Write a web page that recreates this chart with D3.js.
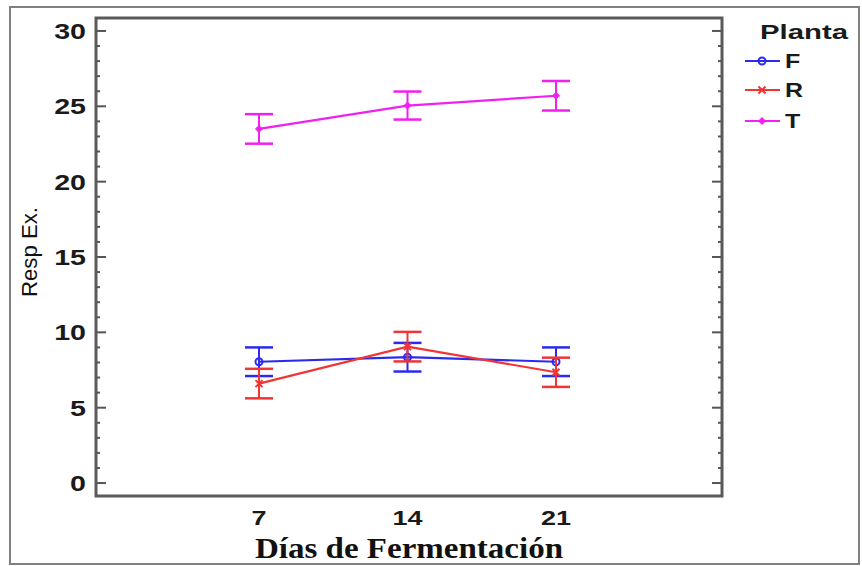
<!DOCTYPE html>
<html><head><meta charset="utf-8">
<script src="https://cdn.jsdelivr.net/npm/d3@7"></script>
<style>body{margin:0;background:#fff}svg{display:block}</style>
</head><body>
<script>
const days = [7, 14, 21];
const seriesNames = ["F", "R", "T"];
const valuesF = [8.05, 8.35, 8.05];
const valuesR = [6.6, 9.05, 7.35];
const valuesT = [23.5, 25.05, 25.7];
const errF = [0.95, 0.95, 0.95];
const errR = [0.98, 0.98, 0.97];
const errT = [0.98, 0.93, 0.98];
const yTicks = [0, 5, 10, 15, 20, 25, 30];
const colors = {F: "#2b2bf0", R: "#f03535", T: "#f020f0"};

const series = [
  {name: "F", values: valuesF, err: errF},
  {name: "R", values: valuesR, err: errR},
  {name: "T", values: valuesT, err: errT}
];

const W = 862, H = 566;
const SANS = "Liberation Sans, Arial, sans-serif";
const svg = d3.select("body").append("svg").attr("width", W).attr("height", H);

// outer border
svg.append("rect").attr("x", 10).attr("y", 7).attr("width", 849).attr("height", 557)
  .attr("fill", "none").attr("stroke", "#808080").attr("stroke-width", 2);

const L = 96, R = 722, T = 18, B = 496;
const x = d3.scaleLinear().domain([7, 21]).range([259, 556]);
const y = d3.scaleLinear().domain([-0.86, 30.86]).range([B, T]);

// ticks (left and right, inward)
const minor = d3.range(0, 31, 1);
const g = svg.append("g");
minor.forEach(v => {
  const major = v % 5 === 0;
  const len = major ? 10 : 4;
  g.append("line").attr("x1", L).attr("x2", L + len).attr("y1", y(v)).attr("y2", y(v))
    .attr("stroke", "#555").attr("stroke-width", 2);
  g.append("line").attr("x1", R).attr("x2", R - len).attr("y1", y(v)).attr("y2", y(v))
    .attr("stroke", "#555").attr("stroke-width", 2);
});

// plot frame
svg.append("rect").attr("x", L).attr("y", T).attr("width", R - L).attr("height", B - T)
  .attr("fill", "none").attr("stroke", "#5a5a5a").attr("stroke-width", 3);

// stretched text helper
function stxt(px, py, str, opts) {
  const gg = svg.append("g").attr("transform", `translate(${px},${py}) scale(${opts.sx || 1},1)`);
  return gg.append("text").attr("x", 0).attr("y", 0)
    .attr("text-anchor", opts.anchor || "start").attr("font-family", opts.family || SANS)
    .attr("font-weight", opts.weight || "bold").attr("font-size", opts.size)
    .attr("fill", opts.fill || "#1a1a1a").attr("dy", opts.dy || null).text(str);
}

// y tick labels
yTicks.forEach(d => stxt(86, y(d), d, {anchor: "end", size: 22, sx: 1.3, dy: "0.36em"}));

// x tick labels
days.forEach(d => stxt(x(d), 525, d, {anchor: "middle", size: 20, sx: 1.35}));

// x axis title
svg.append("text").attr("x", 409).attr("y", 558).attr("text-anchor", "middle")
  .attr("font-family", "Liberation Serif, Times New Roman, serif").attr("font-weight", "bold")
  .attr("font-size", 30).attr("fill", "#111").attr("textLength", 308)
  .attr("lengthAdjust", "spacingAndGlyphs").text("Días de Fermentación");

// y axis title
svg.append("text").attr("transform", "translate(37,252) rotate(-90)").attr("text-anchor", "middle")
  .attr("font-family", SANS).attr("font-size", 22)
  .attr("fill", "#111").attr("textLength", 90).attr("lengthAdjust", "spacingAndGlyphs").text("Resp Ex.");

// marker drawing
function marker(sel, name, cx, cy, col) {
  if (name === "F") {
    sel.append("circle").attr("cx", cx).attr("cy", cy).attr("r", 3.5)
      .attr("fill", "none").attr("stroke", col).attr("stroke-width", 2);
  } else if (name === "R") {
    sel.append("path").attr("d", `M${cx-3.5},${cy-3.5}L${cx+3.5},${cy+3.5}M${cx-3.5},${cy+3.5}L${cx+3.5},${cy-3.5}`)
      .attr("stroke", col).attr("stroke-width", 2);
  } else {
    sel.append("path").attr("d", `M${cx},${cy-3.5}L${cx+3.5},${cy}L${cx},${cy+3.5}L${cx-3.5},${cy}Z`)
      .attr("fill", col).attr("stroke", col).attr("stroke-width", 1);
  }
}

const line = d3.line().x((d, i) => x(days[i])).y(d => y(d));
series.forEach(s => {
  const col = colors[s.name];
  const sg = svg.append("g");
  s.values.forEach((v, i) => {
    const cx = x(days[i]);
    const lo = y(v - s.err[i]), hi = y(v + s.err[i]);
    sg.append("line").attr("x1", cx).attr("x2", cx).attr("y1", lo).attr("y2", hi)
      .attr("stroke", col).attr("stroke-width", 2);
    [lo, hi].forEach(yy => sg.append("line").attr("x1", cx - 14).attr("x2", cx + 14)
      .attr("y1", yy).attr("y2", yy).attr("stroke", col).attr("stroke-width", 2.5));
  });
  sg.append("path").attr("d", line(s.values)).attr("fill", "none")
    .attr("stroke", col).attr("stroke-width", 2.2);
  s.values.forEach((v, i) => marker(sg, s.name, x(days[i]), y(v), col));
});

// legend
svg.append("text").attr("x", 760).attr("y", 39).attr("font-family", SANS)
  .attr("font-weight", "bold").attr("font-size", 20).attr("fill", "#1a1a1a")
  .attr("textLength", 88).attr("lengthAdjust", "spacingAndGlyphs").text("Planta");
const legY = {F: 61, R: 90, T: 121};
seriesNames.forEach(n => {
  const col = colors[n];
  const yy = legY[n];
  svg.append("line").attr("x1", 745).attr("x2", 780).attr("y1", yy).attr("y2", yy)
    .attr("stroke", col).attr("stroke-width", 2);
  marker(svg, n, 762, yy, col);
  stxt(785, yy, n, {size: 20, sx: 1.25, dy: "0.36em"});
});
</script>
</body></html>
